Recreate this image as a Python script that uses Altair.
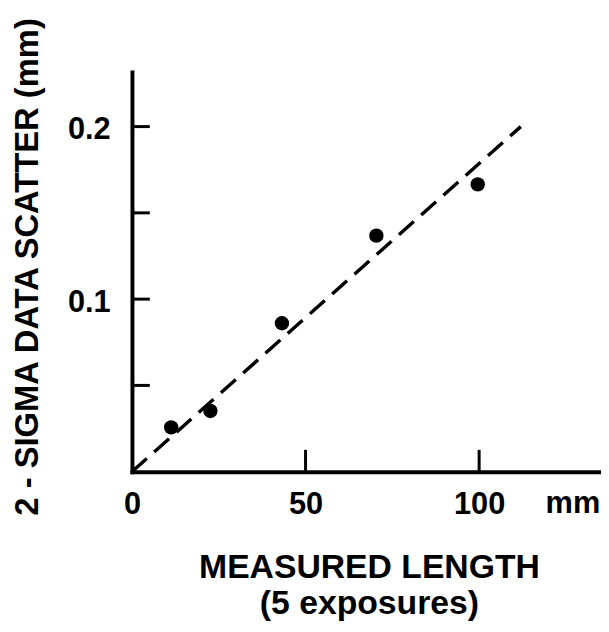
import altair as alt
import pandas as pd

# ---- data ----
length_mm = [11.3, 22.6, 43.2, 70.4, 99.6]
scatter_mm = [0.0257, 0.0352, 0.086, 0.1368, 0.1665]
fit_length = [0, 112]
fit_scatter = [0, 0.2]
x_tick_values = [50, 100]
y_tick_values = [0.05, 0.1, 0.15, 0.2]
x_label_values = [0, 50, 100]
y_label_values = [0.1, 0.2]
unit_text = ["mm"]
unit_pos = [127]
x_title = ["MEASURED LENGTH", "(5 exposures)"]
y_title = "2 - SIGMA DATA SCATTER (mm)"

FONT = "Liberation Sans"
W, H = 473, 403
X_MAX = 135.1
Y_MAX = 0.2316

pts_df = pd.DataFrame({"x": length_mm, "y": scatter_mm})
fit_df = pd.DataFrame({"x": fit_length, "y": fit_scatter})
xt_df = pd.DataFrame({"x": x_tick_values, "y": [0] * len(x_tick_values)})
yt_df = pd.DataFrame({"x": [0] * len(y_tick_values), "y": y_tick_values})
unit_df = pd.DataFrame({"x": unit_pos, "y": [0] * len(unit_pos), "t": unit_text})

xs = alt.Scale(domain=[0, X_MAX], nice=False, zero=False)
ys = alt.Scale(domain=[0, Y_MAX], nice=False, zero=False)

common_axis = dict(
    ticks=False, tickSize=0, grid=False,
    domainColor="black", domainWidth=4, domainCap="square",
    labelFont=FONT, labelFontWeight="bold", labelFontSize=31, labelColor="black",
    labelFlush=False, labelOverlap=False,
    titleFont=FONT, titleFontWeight="bold", titleColor="black",
)

x_axis = alt.Axis(
    values=x_label_values, format="d",
    labelPadding=18, labelBaseline="top", labelAlign="center",
    title=x_title, titleFontSize=34, titleX=239, titleY=80, titleAlign="center",
    titleBaseline="top", titleLineHeight=36,
    **common_axis,
)
y_axis = alt.Axis(
    values=y_label_values, format=".1f",
    labelPadding=22, labelOffset=3, labelBaseline="middle", labelAlign="right",
    title=y_title, titleFontSize=33, titleAngle=270, titleX=-105, titleY=196,
    titleAlign="center", titleBaseline="middle",
    **common_axis,
)

def X():
    return alt.X("x:Q", scale=xs, axis=x_axis)

def Y():
    return alt.Y("y:Q", scale=ys, axis=y_axis)

points = alt.Chart(pts_df).mark_circle(size=210, color="black", opacity=1).encode(x=X(), y=Y())

fit = alt.Chart(fit_df).mark_line(
    color="black", strokeWidth=3.5, strokeDash=[20, 10]
).encode(x=X(), y=Y())

xticks = alt.Chart(xt_df).mark_tick(
    orient="vertical", size=22, thickness=3, color="black", opacity=1, yOffset=-11
).encode(x=X(), y=Y())

yticks = alt.Chart(yt_df).mark_tick(
    orient="horizontal", size=18, thickness=3, color="black", opacity=1, xOffset=9
).encode(x=X(), y=Y())

unit = alt.Chart(unit_df).mark_text(
    font=FONT, fontSize=31, fontWeight="bold", color="black",
    baseline="top", align="center", dy=18
).encode(x=X(), y=Y(), text="t:N")

chart = alt.layer(fit, xticks, yticks, points, unit).properties(
    width=W, height=H,
    padding={"left": 125, "top": 62, "right": 0, "bottom": 151},
    autosize=alt.AutoSizeParams(type="none"),
    background="white",
).configure_view(stroke=None)

chart.save("out.html", embed_options={"renderer": "svg", "actions": False})
